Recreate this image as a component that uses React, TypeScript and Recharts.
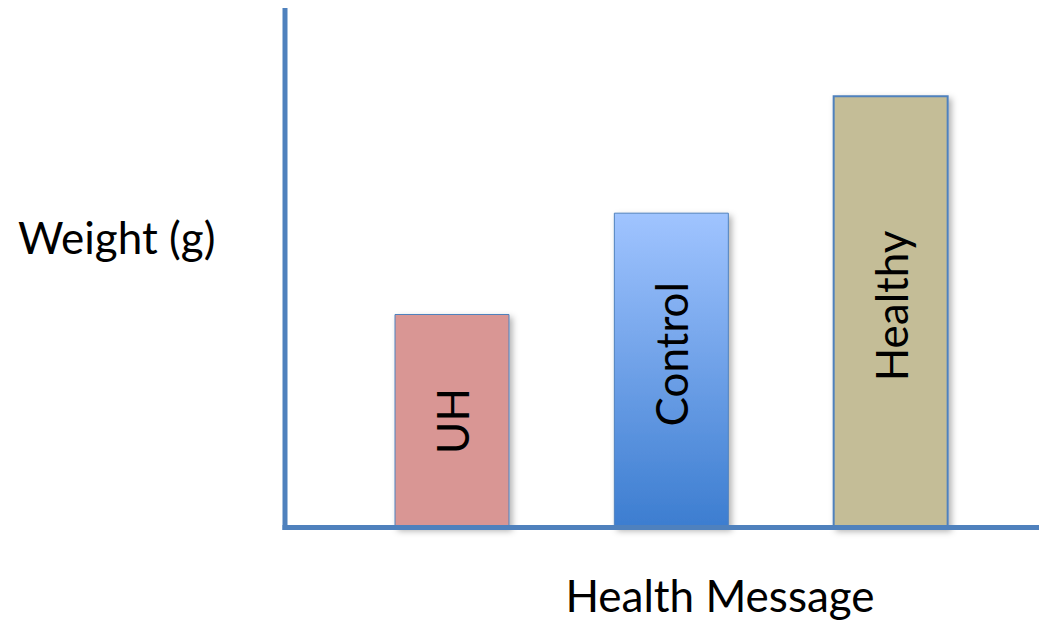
import { BarChart, Bar, XAxis, YAxis, Cell, LabelList, Label } from "recharts";

const categories = ["UH", "Control", "Healthy"];
const weights = [41.2, 60.8, 83.4];
const barColors = ["#d99694", "url(#ctrlGrad)", "#c4bd97"];
const borderWidths = [1, 1, 2];
// small vertical nudges of the in-bar labels, as placed in the original slide
const labelShift = [0, -16, -6];

const data = categories.map((c, i) => ({ group: c, weight: weights[i] }));

const axisColor = "#4f81bd";
const font = "Lato, 'Open Sans', sans-serif";

const BarText = (props: any) => {
  const { x, y, width, height, value, index } = props;
  const cx = x + width / 2;
  const cy = y + height / 2 + (labelShift[index] || 0);
  return (
    <text
      x={cx}
      y={cy}
      transform={`rotate(-90 ${cx} ${cy})`}
      textAnchor="middle"
      dominantBaseline="central"
      fontFamily={font}
      fontSize={44}
      fill="#000"
    >
      {value}
    </text>
  );
};

const YTitle = (props: any) => {
  const { viewBox } = props;
  return (
    <text
      x={viewBox.x + 18}
      y={viewBox.y + viewBox.height / 2 - 32}
      dominantBaseline="central"
      fontFamily={font}
      fontSize={44}
      fill="#000"
    >
      Weight (g)
    </text>
  );
};

const XTitle = (props: any) => {
  const { viewBox } = props;
  return (
    <text
      x={viewBox.x + viewBox.width / 2 + 58}
      y={viewBox.y + 67}
      textAnchor="middle"
      dominantBaseline="central"
      fontFamily={font}
      fontSize={44}
      fill="#000"
    >
      Health Message
    </text>
  );
};

export default function App() {
  return (
    <div style={{ position: "absolute", left: 0, top: 0, background: "#fff" }}>
      <BarChart
        width={1039}
        height={620}
        data={data}
        margin={{ top: 10.5, right: 0, bottom: 0, left: 0 }}
      >
        <defs>
          <linearGradient id="ctrlGrad" x1="0" y1="0" x2="0" y2="1">
            <stop offset="0%" stopColor="#a0c4ff" />
            <stop offset="100%" stopColor="#3c7dd0" />
          </linearGradient>
          <filter id="shadow" x="-10%" y="-10%" width="130%" height="130%">
            <feDropShadow dx="3" dy="3" stdDeviation="3" floodColor="#000" floodOpacity="0.3" />
          </filter>
        </defs>
        <XAxis
          dataKey="group"
          height={92.5}
          tick={false}
          tickLine={false}
          padding={{ left: 57, right: 39 }}
          axisLine={{ stroke: axisColor, strokeWidth: 5, strokeLinecap: "square" }}
        >
          <Label content={<XTitle />} />
        </XAxis>
        <YAxis
          width={285}
          domain={[0, 100]}
          tick={false}
          tickLine={false}
          axisLine={{ stroke: axisColor, strokeWidth: 5, strokeLinecap: "square" }}
        >
          <Label content={<YTitle />} />
        </YAxis>
        <Bar dataKey="weight" barSize={114} isAnimationActive={false} filter="url(#shadow)">
          {data.map((d, i) => (
            <Cell key={d.group} fill={barColors[i]} stroke={axisColor} strokeWidth={borderWidths[i]} />
          ))}
          <LabelList dataKey="group" content={<BarText />} />
        </Bar>
      </BarChart>
    </div>
  );
}
